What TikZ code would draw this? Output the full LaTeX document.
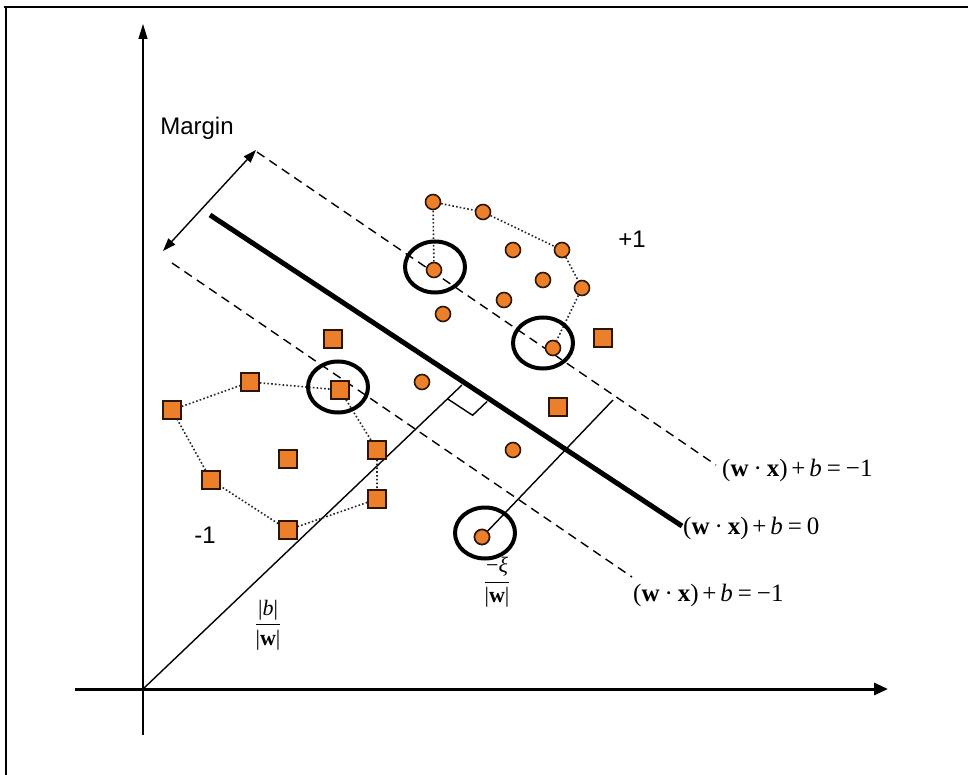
\documentclass[tikz,border=0pt]{standalone}
\usepackage{fix-cm}
\usepackage{fontspec}
\setmainfont{Liberation Serif}
\newfontfamily\arialf{Liberation Sans}
\usetikzlibrary{arrows.meta,shapes.geometric}
\definecolor{dotfill}{RGB}{236,128,42}
\definecolor{dotedge}{RGB}{45,22,8}
\newcommand{\eqtext}[1]{(\textbf{w}\hspace{0.2em}·\hspace{0.2em}\textbf{x})\hspace{0.15em}+\hspace{0.15em}\textit{b}\hspace{0.2em}=\hspace{0.2em}#1}
\begin{document}
\begin{tikzpicture}[x=1pt,y=-1pt,
  posdot/.style={circle,draw=dotedge,line width=1.6pt,fill=dotfill,inner sep=0pt,minimum size=15pt},
  negdot/.style={rectangle,draw=dotedge,line width=1.6pt,fill=dotfill,inner sep=0pt,minimum size=18pt},
  svring/.style={ellipse,draw=black,line width=4pt,inner sep=0pt,minimum width=60pt,minimum height=51pt},
  hull/.style={draw=black!85,line width=1.6pt,dash pattern=on 1.6pt off 2.2pt},
  margline/.style={line width=1.4pt,dash pattern=on 9pt off 6pt},
  thinline/.style={line width=1.4pt},
  sanslabel/.style={font=\fontsize{24}{28}\selectfont\arialf},
  eqlabel/.style={font=\fontsize{25}{30}\selectfont,inner sep=0pt},
  fraclabel/.style={font=\fontsize{22}{26}\selectfont,inner sep=0pt}
]
\useasboundingbox (0,0) rectangle (968,775);
\fill[white] (0,0) rectangle (968,775);
% frame
\draw[line width=2pt] (4,7) -- (968,7);
\draw[line width=1.6pt] (6,7) -- (6,775);
% axes
\coordinate (O) at (143,689);
\coordinate (ytop) at (143,24);
\coordinate (ybot) at (143,735);
\coordinate (xleft) at (75,689);
\coordinate (xright) at (888,689);
\draw[line width=1.3pt,-{Triangle[length=15pt,width=9pt]}] (ybot) -- (ytop);
\draw[line width=2.2pt] (143,237) -- (143,273);
\draw[line width=3pt,-{Triangle[length=14pt,width=12pt]}] (xleft) -- (xright);
% hyperplanes
\coordinate (hA) at (210,215); \coordinate (hB) at (682,526);
\coordinate (uA) at (257,152); \coordinate (uB) at (716,465);
\coordinate (lA) at (172,263); \coordinate (lB) at (632,577);
\draw[line width=5pt] (hA) -- (hB);
\draw[margline] (uA) -- (uB);
\draw[margline] (lA) -- (lB);
% margin arrow
\coordinate (mA) at (163,251); \coordinate (mB) at (256,150);
\draw[thinline,{Triangle[length=13pt,width=9pt]}-{Triangle[length=13pt,width=9pt]}] (mA) -- (mB);
% perpendicular from origin and right-angle mark
\coordinate (F) at (462,385);
\draw[thinline] (O) -- (F);
\draw[thinline] (447.5,398.8) -- (472.6,415.3) -- (487.1,401.5);
% positive points
\node[posdot] (p1) at (433,202) {};
\node[posdot] (p2) at (483,212) {};
\node[posdot] (p3) at (513,250) {};
\node[posdot] (p4) at (562,250) {};
\node[posdot] (p5) at (543,280) {};
\node[posdot] (p6) at (434,270) {};
\node[posdot] (p7) at (582,288) {};
\node[posdot] (p8) at (504,300) {};
\node[posdot] (p9) at (443,314) {};
\node[posdot] (p10) at (553,348) {};
\node[posdot] (p11) at (422,382) {};
\node[posdot] (p12) at (513,450) {};
\node[posdot] (p13) at (482,537) {};
% negative points
\node[negdot] (n1) at (333,339) {};
\node[negdot] (n2) at (250,382) {};
\node[negdot] (n3) at (172,410) {};
\node[negdot] (n4) at (340,390) {};
\node[negdot] (n5) at (288,459) {};
\node[negdot] (n6) at (377,450) {};
\node[negdot] (n7) at (211,480) {};
\node[negdot] (n8) at (377,499) {};
\node[negdot] (n9) at (288,530) {};
\node[negdot] (n10) at (603,338) {};
\node[negdot] (n11) at (558,407) {};
% hulls
\draw[hull] (p6) -- (p1) -- (p2) -- (p4) -- (p7) -- (p10);
\draw[hull] (n3) -- (n2) -- (n4) -- (n6) -- (n8) -- (n9) -- (n7) -- (n3);
% slack line
\coordinate (xiEnd) at (613,400);
\draw[thinline] (p13.center) -- (xiEnd);
\node[posdot] at (p13) {};
% support vector rings
\node[svring] (e1) at (435,267) {};
\node[svring] (e2) at (543,343) {};
\node[svring] (e3) at (338,387) {};
\node[svring] (e4) at (485,533) {};
% labels
\node[sanslabel] (lmargin) at (197,128) {Margin};
\node[sanslabel] (lplus) at (632,239) {+1};
\node[sanslabel] (lminus) at (205,535) {-1};
\node[eqlabel,anchor=west] (equ) at (722,470) {\eqtext{−1}};
\node[eqlabel,anchor=west] (eqm) at (683,528) {\eqtext{0}};
\node[eqlabel,anchor=west] (eql) at (633,595) {\eqtext{−1}};
\node[fraclabel] (lxi) at (497,582) {$\displaystyle\frac{\mbox{−\textit{ξ}}}{\mbox{|\textbf{w}|}}$};
\node[fraclabel] (lb) at (268,625) {$\displaystyle\frac{\mbox{|\textit{b}|}}{\mbox{|\textbf{w}|}}$};
\end{tikzpicture}
\end{document}
